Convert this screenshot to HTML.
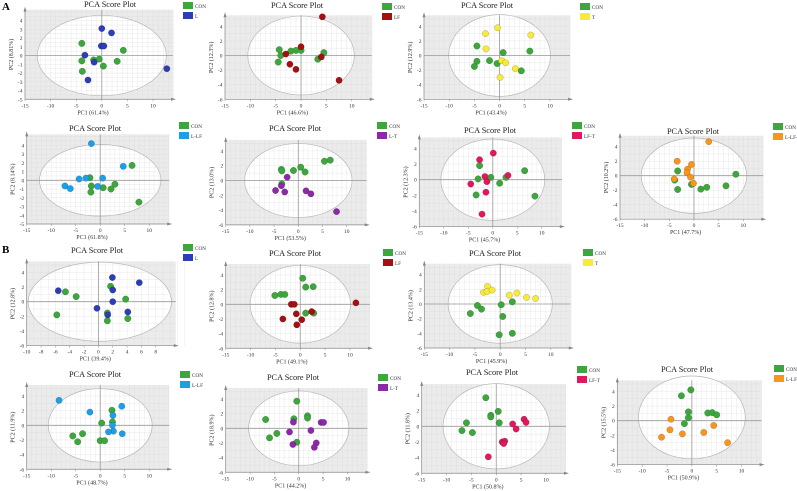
<!DOCTYPE html>
<html><head><meta charset="utf-8"><style>
html,body{margin:0;padding:0;background:#fff;width:797px;height:491px;overflow:hidden}
svg{display:block;font-family:"Liberation Serif",serif}
</style></head><body>
<svg id="fig" width="797" height="491" viewBox="0 0 797 491">
<text x="2" y="10" font-size="11" font-weight="bold">A</text>
<text x="2" y="253" font-size="11" font-weight="bold">B</text>
</svg>
<script>
// ---- data (PC1, PC2 scores) ----
const a1Con=[[-3.9,1.4],[4.2,0.6],[-3.9,-0.6],[-1.6,-0.5],[-0.5,-0.4],[0.3,-1.2],[3,-0.65],[-3.8,-1.8]];
const a1Trt=[[0,3.1],[1.9,2.6],[-0.1,1.1],[0.4,1.1],[-3.3,0.05],[-1.5,-0.75],[-2.7,-2.8],[12.7,-1.5]];
const a2Con=[[-4.3,0.8],[-4,0],[-4.5,-0.9],[-2,0.6],[-1,0.7],[0,0.7],[4.5,0.4],[3.3,-0.5]];
const a2Trt=[[-3,0.2],[0,1.2],[-2.2,-1.2],[-1,-1.9],[4.2,5.3],[4,-0.2],[7.5,-3.4]];
const a3Con=[[-4.5,1.3],[-4.5,-0.8],[-5,-1.5],[-2,-0.7],[-0.5,-1.1],[0.7,0.4],[6,0.6],[4.3,-2.1]];
const a3Trt=[[-2.8,3],[-0.4,3.8],[-2.7,0.9],[6.2,2.8],[0.4,-0.7],[1.2,-1],[3.1,-1.8],[0.1,-3]];
const a4Con=[[6.5,1.7],[-2.1,0.3],[-1.8,-0.65],[-1.9,-1.35],[0.6,-0.85],[3,-0.45],[2.2,-1.0],[7.9,-2.5]];
const a4Trt=[[-1.8,4.2],[4.7,1.6],[-4.3,0.15],[-2.9,0.25],[-7.2,-0.65],[-6.1,-0.95],[-0.5,-0.7],[0.5,0.25]];
const a5Con=[[5.4,2.6],[6.6,2.75],[-3.5,1.5],[-3.4,1.3],[-1,1.35],[0.5,1.8],[1.4,1.15],[-3.4,-0.45]];
const a5Trt=[[-2.3,0.45],[-3.5,-0.7],[-4.7,-1.35],[-2.8,-1.55],[1.6,-1.4],[2.6,-1.8],[7.9,-4.2]];
const a6Con=[[-2.7,1.8],[-3,0.1],[-0.4,0.3],[2.7,0.3],[1.4,-0.45],[6.5,1.15],[-3.4,-1.95],[8.6,-2.1]];
const a6Trt=[[0.1,3.4],[-2.7,2.55],[-1.6,0.4],[-1.2,-0.25],[-4.5,-0.55],[3.1,0.55],[-1.4,-1.6],[-2.2,-4.4]];
const a7Con=[[-3.3,0.65],[8.5,0.2],[-3.9,-0.6],[-0.5,-1.2],[-3.3,-1.9],[1.4,-1.85],[2.6,-1.6],[6.5,-1.4]];
const a7Trt=[[3,4.7],[-3.4,2],[-0.5,1.55],[-1.3,0.9],[-1.4,0.4],[-0.7,-0.2],[-4,-0.45],[-0.1,-1.05]];
const b1Con=[[-4.6,1.35],[-3.1,0.7],[1.7,2.1],[3.8,0.35],[-5.8,-1.8],[1.25,-1.55],[1.25,-2.6],[4.1,-2.3]];
const b1Trt=[[1.95,3.3],[5.7,2.6],[-5.6,1.5],[2,1.6],[2,0],[-0.2,-0.9],[1.3,-1.8],[4.1,-1.4]];
const b2Con=[[0.5,3.55],[1.1,2.35],[2.6,2.4],[-5.1,1.2],[-3.9,1.35],[-3.1,1.35],[1.1,-1.2],[2.7,-1.2]];
const b2Trt=[[11.2,0.2],[-1.8,0],[-1.2,0],[-0.8,-1.3],[-3.5,-2],[-0.7,-2.8],[0.3,-2.1],[2.3,-1.0]];
const b3Con=[[-4.5,-0.2],[-3.7,-0.7],[-5.9,-1.3],[0.2,-0.1],[2.4,0.3],[0.5,-1.7],[-0.2,-4.2],[2.4,-4]];
const b3Trt=[[-2.5,2.4],[-3.3,1.6],[-2.6,1.7],[-1.6,1.9],[1.8,1.2],[3.3,1.5],[5.2,0.9],[7,0.75]];
const b4Con=[[2.4,2.05],[2.5,0.45],[0.3,0.3],[-5.6,-1.45],[-3.6,-1.15],[-4.6,-2.25],[0,-2.1],[0.9,-2.1]];
const b4Trt=[[-8.4,3.4],[-2.1,1.8],[4.4,2.6],[2.6,1.35],[2.5,0],[2.7,-0.8],[1.7,-0.9],[4.5,-1.15]];
const b5Con=[[-0.4,3.7],[1.8,1.7],[1.8,1.4],[-1,1.3],[-6.8,1.2],[-4.5,-0.7],[-6,-1.3],[-0.4,-1.9]];
const b5Trt=[[-1.1,0.85],[-1.9,-0.5],[2.5,-0.3],[4.6,0.8],[5.1,0.8],[3.6,-2],[3.2,-2.6],[-1.2,-2.2]];
const b6Con=[[-2.1,3.65],[-1.1,1.4],[-1.1,1.2],[0.4,1.9],[0.6,0.45],[-6,0.45],[-6.9,-0.55],[-4.8,-0.8]];
const b6Trt=[[3.3,0.3],[5.6,0.9],[6,0.5],[4,-0.35],[1.2,-2],[1.7,-1.9],[1.5,-2.2],[-1.6,-3.9]];
const b7Con=[[-0.2,4.2],[-2.1,3.4],[-0.7,1.2],[-0.7,0.4],[-1.5,-0.4],[3.2,1.05],[4.1,1.1],[5,0.8]];
const b7Trt=[[-4.2,0.2],[-4.4,-1.25],[-6.1,-2.25],[-1.9,-1.8],[2.4,-1.6],[4.4,-0.65],[7.2,-3]];
const groupNames=["L","LF","T","L-LF","L-T","LF-T","L-LF-T","L","LF","T","L-LF","L-T","LF-T","L-LF-T"];
const pc1Labels=["61.4%","46.6%","43.4%","61.8%","53.5%","45.7%","47.7%","39.4%","49.1%","45.9%","48.7%","44.2%","50.8%","50.9%"];
const pc2Labels=["8.81%","12.3%","12.9%","8.14%","13.0%","12.3%","10.2%","12.8%","12.8%","13.4%","11.9%","18.9%","11.8%","15.5%"];
const conSets=[a1Con,a2Con,a3Con,a4Con,a5Con,a6Con,a7Con,b1Con,b2Con,b3Con,b4Con,b5Con,b6Con,b7Con];
const trtSets=[a1Trt,a2Trt,a3Trt,a4Trt,a5Trt,a6Trt,a7Trt,b1Trt,b2Trt,b3Trt,b4Trt,b5Trt,b6Trt,b7Trt];
// ---- layout geometry ----
const colors={"L":"#2d3db5","LF":"#a50f0f","T":"#f7ea3a","L-LF":"#1d9fe6","L-T":"#8c29a8","LF-T":"#e0195c","L-LF-T":"#f7951c"};
const geo=[
 {x0:25,sx:5.12,y0:55.6,sy:8.73,ymin:-5,ymax:4,ys:1,tx:110,ty:7,lx:183,ly:2,rx:12.6,ry:4.6},
 {x0:225,sx:5.07,y0:55.5,sy:7.3,ymin:-6,ymax:4,ys:2,tx:297,ty:8,lx:382,ly:3,rx:10.5,ry:5.4},
 {x0:424,sx:5.04,y0:55.5,sy:7.3,ymin:-6,ymax:4,ys:2,tx:487,ty:8,lx:580,ly:3,rx:10.1,ry:5.6},
 {x0:26.7,sx:4.9,y0:180.3,sy:8.74,ymin:-5,ymax:4,ys:1,tx:95,ty:131,lx:179,ly:122,rx:12.4,ry:4.1},
 {x0:225.7,sx:4.84,y0:180.5,sy:7.4,ymin:-6,ymax:4,ys:2,tx:295,ty:131,lx:377,ly:122,rx:11.1,ry:5.0},
 {x0:419.3,sx:4.9,y0:179.7,sy:7.83,ymin:-6,ymax:4,ys:2,tx:490,ty:133,lx:572,ly:122,rx:10.6,ry:5.2},
 {x0:620,sx:4.93,y0:175.7,sy:7.25,ymin:-6,ymax:4,ys:2,tx:693,ty:134,lx:773,ly:123,rx:10.7,ry:5.2},
 {x0:26.7,xmin:-10,xmax:8,xs:2,sx:7.17,y0:301.7,sy:7.33,ymin:-6,ymax:4,ys:2,tx:97,ty:253,lx:183,ly:244,rx:10,ry:5.4,cx:0.2},
 {x0:225.7,sx:4.97,y0:304.3,sy:7.33,ymin:-6,ymax:4,ys:2,tx:295,ty:256,lx:383,ly:249,rx:10.1,ry:5.3},
 {x0:424.3,sx:5.06,y0:304,sy:7.33,ymin:-6,ymax:4,ys:2,tx:495,ty:256,lx:583,ly:249,rx:10.3,ry:5.35},
 {x0:26.7,sx:4.9,y0:425.3,sy:7.33,ymin:-6,ymax:4,ys:2,tx:95,ty:377,lx:180,ly:371,rx:10.6,ry:5},
 {x0:225.7,sx:4.87,y0:428.3,sy:7.33,ymin:-6,ymax:4,ys:2,tx:293,ty:380,lx:378,ly:374,rx:10.3,ry:5.1},
 {x0:421.7,sx:4.97,y0:426.3,sy:7.83,ymin:-6,ymax:4,ys:2,tx:492,ty:375,lx:577,ly:366,rx:10.7,ry:5.45},
 {x0:617.3,sx:4.97,y0:420.7,sy:7.33,ymin:-6,ymax:4,ys:2,tx:687,ty:372,lx:774,ly:365,rx:10.75,ry:5.65,cy:0.45}
];
const NS="http://www.w3.org/2000/svg";
const fig=document.getElementById('fig');
function mk(tag,attrs,parent){const e=document.createElementNS(NS,tag);for(const k in attrs)e.setAttribute(k,attrs[k]);(parent||fig).appendChild(e);return e;}
function txt(s,attrs,parent){const e=mk('text',attrs,parent);e.textContent=s;return e;}
geo.forEach((g,i)=>{
 const xmin=g.xmin??-15, xmax=g.xmax??10, xs=g.xs??5;
 const X=v=>g.x0+(v-xmin)*g.sx, Y=v=>g.y0-v*g.sy;
 const grp=mk('g',{});
 
 
 const L=X(xmin), R=X(xmax)+20, T=Y(g.ymax)-11, B=Y(g.ymin);
 const bg=mk('rect',{x:L,y:T,width:R-L,height:B-T,fill:'#ebebeb'},grp);
 
 
 const el=mk('ellipse',{cx:X(g.cx||0),cy:Y(g.cy||0),rx:g.rx*g.sx,ry:g.ry*g.sy,fill:'#fff',stroke:'#b5b5b5','stroke-width':0.7},grp);
 
 
 for(let v=xmin;v<=xmax+4;v+=xs/ (xs===5?5:2)){mk('line',{x1:X(v),x2:X(v),y1:T,y2:B,stroke:'#d8d8d8','stroke-width':0.4,'stroke-opacity':0.7},grp);}
 for(let v=g.ymin;v<=g.ymax+1;v+=g.ys/2){mk('line',{x1:L,x2:R,y1:Y(v),y2:Y(v),stroke:'#d8d8d8','stroke-width':0.4,'stroke-opacity':0.7},grp);}
 mk('line',{x1:X(0),x2:X(0),y1:T,y2:B,stroke:'#9a9a9a','stroke-width':0.8},grp);
 mk('line',{x1:L,x2:R,y1:Y(0),y2:Y(0),stroke:'#9a9a9a','stroke-width':0.8},grp);
 mk('line',{x1:L,x2:R,y1:B,y2:B,stroke:'#888','stroke-width':0.7},grp);
 mk('line',{x1:L,x2:L,y1:T,y2:B,stroke:'#888','stroke-width':0.7},grp);
 mk('path',{d:`M${R+3},${B} L${R-2},${B-1.5} L${R-2},${B+1.5}Z`,fill:'#888'},grp);
 mk('path',{d:`M${L},${T-3} L${L-1.5},${T+2} L${L+1.5},${T+2}Z`,fill:'#888'},grp);
 for(let v=xmin;v<=xmax;v+=xs){mk('line',{x1:X(v),x2:X(v),y1:B,y2:B+2,stroke:'#888','stroke-width':0.5},grp);
  const t=txt(String(v),{x:X(v),y:B+8,'font-size':5.5,'text-anchor':'middle',fill:'#333'},grp);
  
  }
 for(let v=g.ymin;v<=g.ymax;v+=g.ys){
  const t=txt(String(v),{x:L-2.5,y:Y(v)+2,'font-size':5.5,'text-anchor':'end',fill:'#333'},grp);
  
  }
 const ti=txt('PCA Score Plot',{x:g.tx,y:g.ty,'font-size':8.3,'text-anchor':'middle',fill:'#222'},grp);
 
 
 const xl=txt('PC1 ('+pc1Labels[i]+')',{x:(L+R)/2-6,y:B+15,'font-size':6,'text-anchor':'middle',fill:'#333'},grp);
 
 
 const yc=(T+B)/2;
 const yl=txt('PC2 ('+pc2Labels[i]+')',{x:L-12,y:yc,'font-size':6,'text-anchor':'middle',fill:'#333',transform:`rotate(-90 ${L-12} ${yc})`},grp);
 
 
 const tc=colors[groupNames[i]];
 [['CON','#3fa53f'],[groupNames[i],tc]].forEach((e,k)=>{
  const sw=mk('rect',{x:g.lx,y:g.ly+k*10,width:10,height:7,fill:e[1]},grp);
  
  
  const lt=txt(e[0],{x:g.lx+12,y:g.ly+k*10+6,'font-size':5.2,fill:'#333'},grp);
  
  
 });
 [[conSets[i],'#3fa53f','#2d7d2d'],[trtSets[i],tc,'rgba(0,0,0,0.35)']].forEach(s=>{
  s[0].forEach(p=>{
   const c=mk('circle',{cx:X(p[0]),cy:Y(p[1]),r:3.2,fill:s[1],stroke:s[2],'stroke-width':0.4},grp);
   
   
  });
 });
});
</script>
</body></html>
